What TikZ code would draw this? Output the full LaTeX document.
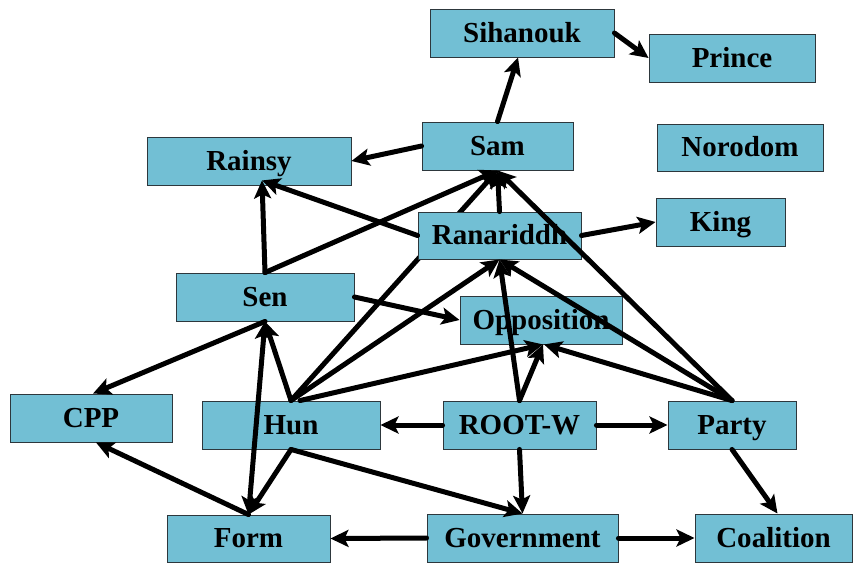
\documentclass[tikz,border=0pt]{standalone}
\usepackage{fontspec}
\setmainfont{Liberation Serif}
\usetikzlibrary{arrows.meta,calc}
\pgfdeclarelayer{background}
\pgfsetlayers{background,main}
\definecolor{boxfill}{RGB}{114,191,212}
\definecolor{boxline}{RGB}{45,55,60}
\begin{document}
\begin{tikzpicture}[x=1pt,y=-1pt,
  box/.style={draw=boxline,line width=0.9pt,fill=boxfill,inner sep=0pt,
    minimum height=48pt,text height=21pt,text depth=3pt,
    font=\fontsize{29}{34}\selectfont\bfseries,text=black},
  tip/.style={Stealth[length=18pt,width=17pt,inset=4pt]},
  link/.style={line width=5pt,line cap=round,-{Stealth[length=18pt,width=17pt,inset=4pt]}},
  both/.style={line width=5pt,line cap=round,
    {Stealth[length=18pt,width=17pt,inset=4pt]}-{Stealth[length=18pt,width=17pt,inset=4pt]}}]
\useasboundingbox (0,0) rectangle (853,562);

% boxes
\node[box,minimum width=184pt] (sihanouk)   at (522,33)    {Sihanouk};
\node[box,minimum width=166pt] (prince)     at (732,58)    {Prince};
\node[box,minimum width=151pt] (sam)        at (497.5,146) {Sam};
\node[box,minimum width=166pt,minimum height=47pt] (norodom) at (740,147.5) {Norodom};
\node[box,minimum width=204pt] (rainsy)     at (249,161)   {Rainsy};
\node[box,minimum width=163pt,minimum height=47pt] (ranariddh) at (499.5,235.5) {Ranariddh};
\node[box,minimum width=129pt] (king)       at (720.5,222) {King};
\node[box,minimum width=178pt] (sen)        at (265,297)   {Sen};
\node[box,minimum width=162pt] (opposition) at (541,320)   {Opposition};
\node[box,minimum width=162pt] (cpp)        at (91,418)    {CPP};
\node[box,minimum width=178pt] (hun)        at (291,425)   {Hun};
\node[box,minimum width=153pt] (root)       at (519.5,425) {ROOT-W};
\node[box,minimum width=128pt] (party)      at (732,425)   {Party};
\node[box,minimum width=163pt,minimum height=47pt] (form) at (248.5,538.5) {Form};
\node[box,minimum width=191pt] (government) at (522.5,538) {Government};
\node[box,minimum width=157pt] (coalition)  at (773.5,538) {Coalition};

% this link runs behind the Ranariddh box
\begin{pgfonlayer}{background}
\draw[link] (hun.north) -- (sam.south);
\end{pgfonlayer}

% links
\draw[link] (sam.north) -- ($(sihanouk.south)+(-4,0)$);
\draw[link] (sihanouk.east) -- (prince.west);
\draw[link] (sam.west) -- (rainsy.east);
\draw[link] (ranariddh.west) -- ($(rainsy.south)+(13,-5)$);
\draw[link] (sen.north) -- ($(rainsy.south)+(13,-5)$);
\draw[link] (sen.north) -- (sam.south);
\draw[link] (ranariddh.north) -- (sam.south);
\draw[link] (party.north) -- (sam.south);
\draw[link] (hun.north) -- (ranariddh.south);
\draw[link] (root.north) -- (ranariddh.south);
\draw[link] (party.north) -- (ranariddh.south);
\draw[link] ($(hun.north)+(9,0)$) -- ($(opposition.south)+(2,0)$);
\draw[link] (root.north) -- ($(opposition.south)+(2,0)$);
\draw[link] (party.north) -- ($(opposition.south)+(3,0)$);
\draw[link] (hun.north) -- (sen.south);
\draw[both] (form.north) -- (sen.south);
\draw[link] (hun.south) -- (form.north);
\draw[link] (form.north) -- ($(cpp.south)+(5,0)$);
\draw[link] (sen.south) -- ($(cpp.north)+(2,0)$);
\draw[link] (sen.east) -- (opposition.west);
\draw[link] (ranariddh.east) -- (king.west);
\draw[link] (root.west) -- (hun.east);
\draw[link] (root.east) -- (party.west);
\draw[link] (root.south) -- (government.north);
\draw[link] (hun.south) -- (government.north);
\draw[link] (government.west) -- (form.east);
\draw[link] (government.east) -- (coalition.west);
\draw[link] (party.south) -- ($(coalition.north)+(4,0)$);
\end{tikzpicture}
\end{document}
